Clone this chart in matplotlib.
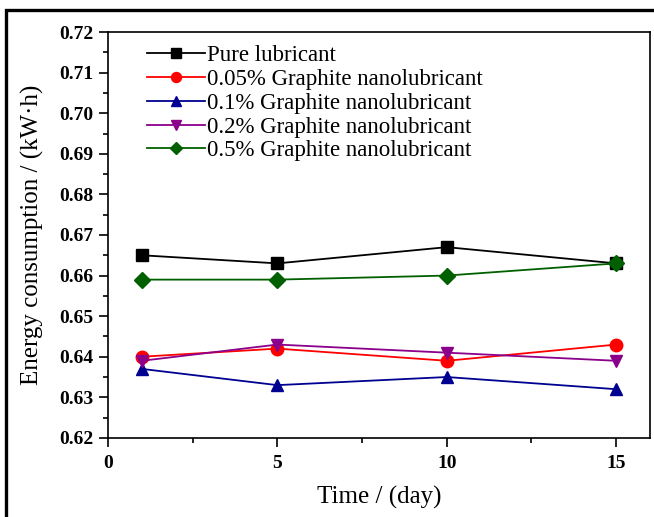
import matplotlib.pyplot as plt
from matplotlib.patches import Rectangle
from matplotlib.ticker import MultipleLocator

plt.rcParams['font.family'] = ['Liberation Serif', 'DejaVu Serif']

# energy consumption over time for each lubricant
days = [1, 5, 10, 15]
pure = [0.665, 0.663, 0.667, 0.663]
g005 = [0.640, 0.642, 0.639, 0.643]
g01 = [0.637, 0.633, 0.635, 0.632]
g02 = [0.639, 0.643, 0.641, 0.639]
g05 = [0.659, 0.659, 0.660, 0.663]

labels = ["Pure lubricant", "0.05% Graphite nanolubricant", "0.1% Graphite nanolubricant",
          "0.2% Graphite nanolubricant", "0.5% Graphite nanolubricant"]
colors = ["black", "#ff0000", "#000090", "#8b008b", "#006000"]
markers = ["s", "o", "^", "v", "D"]
sizes = [9, 9, 9, 9, 8]

fig = plt.figure(figsize=(6.54, 5.17), dpi=100)
ax = fig.add_axes([0.165, 0.153, 0.829, 0.785])

for vals, lab, c, m, s in zip([pure, g005, g01, g02, g05], labels, colors, markers, sizes):
    ax.plot(days, vals, color=c, marker=m, markersize=s, linewidth=1.3, label=lab)

ax.set_xlim(0, 16)
ax.set_ylim(0.62, 0.72)
ax.xaxis.set_major_locator(MultipleLocator(5))
ax.xaxis.set_minor_locator(MultipleLocator(2.5))
ax.yaxis.set_major_locator(MultipleLocator(0.01))
ax.yaxis.set_minor_locator(MultipleLocator(0.005))
ax.yaxis.set_major_formatter(plt.FormatStrFormatter('%.2f'))
ax.tick_params(which='both', direction='out', width=1.2)
ax.tick_params(which='major', length=6.5, labelsize=14, pad=4)
ax.tick_params(axis='x', which='major', pad=6)
ax.tick_params(which='minor', length=3.5)
for lbl in ax.get_xticklabels() + ax.get_yticklabels():
    lbl.set_fontweight('bold')
for sp in ax.spines.values():
    sp.set_linewidth(1.2)

ax.set_xlabel("Time / (day)", fontsize=18, labelpad=10)
ax.set_ylabel("Energy consumption / (kW\u00b7h)", fontsize=18, labelpad=11)

ax.legend(loc='upper left', frameon=False, fontsize=16.5, handlelength=2.5,
          markerscale=0.8, labelspacing=0.12, handletextpad=0.1,
          bbox_to_anchor=(0.056, 0.99), borderaxespad=0)

# outer frame around the figure
fig.patches.append(Rectangle((0.009, -0.05), 1.2, 1.031, transform=fig.transFigure,
                             fill=False, edgecolor='black', linewidth=2.4))

fig.savefig("out.png", dpi=100)
